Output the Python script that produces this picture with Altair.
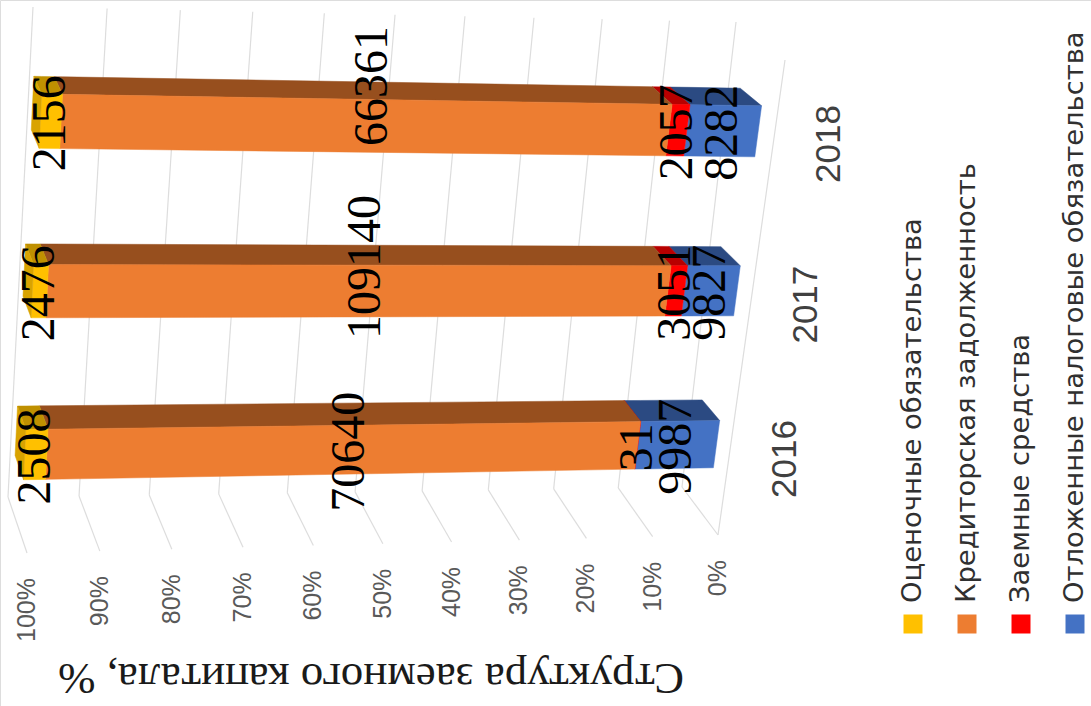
import altair as alt
import pandas as pd

years = ["2016", "2017", "2018"]
estimated = [2508, 2476, 2156]
payables = [70640, 109140, 66361]
loans = [31, 3051, 2057]
deferred_tax = [9987, 9827, 8282]
series_names = [
    "Оценочные обязательства",
    "Кредиторская задолженность",
    "Заемные средства",
    "Отложенные налоговые обязательства",
]
percent_ticks = [0, 10, 20, 30, 40, 50, 60, 70, 80, 90, 100]
title_text = "Структура заемного капитала, %"

# Stacked from the 0% end outwards
stack_order = [
    ("Отложенные налоговые обязательства", deferred_tax, "#4472C4", "#2B4A82"),
    ("Заемные средства", loans, "#FF0000", "#B80000"),
    ("Кредиторская задолженность", payables, "#ED7D31", "#974F1E"),
    ("Оценочные обязательства", estimated, "#FFC000", "#BF9000"),
]
legend_colors = ["#FFC000", "#ED7D31", "#FF0000", "#4472C4"]

# Corners of the 3D box on the page: (percent end, category end, depth end)
BOX = {
    (0, 0, 0): (682, 487), (0, 0, 1): (718, 535),
    (0, 1, 0): (736, 22), (0, 1, 1): (785, 60),
    (1, 0, 0): (8, 497), (1, 0, 1): (27, 553),
    (1, 1, 0): (33, 7), (1, 1, 1): (50, 44),
}
BAR_SPAN = [(0.11, 0.21), (0.432, 0.538), (0.769, 0.877)]
DEPTH = (0.23, 0.68)


def project(pct, c, d):
    """Trilinear projection of (percent, category, depth) with mild perspective."""
    s = pct / 100
    t = s * (0.94 + 0.06 * s)
    px = py = 0.0
    for (a, b, e), (x, y) in BOX.items():
        w = (t if a else 1 - t) * (c if b else 1 - c) * (d if e else 1 - d)
        px += w * x
        py += w * y
    return px, py


def polygon_rows(points, name, fill):
    """Express a convex polygon as x-sorted top/bottom envelopes for an area mark."""
    rows = []
    xs = sorted({p[0] for p in points})
    n = len(points)
    for x in xs:
        hits = []
        for i in range(n):
            (x0, y0), (x1, y1) = points[i], points[(i + 1) % n]
            if min(x0, x1) <= x <= max(x0, x1):
                if x0 == x1:
                    hits += [y0, y1]
                else:
                    hits.append(y0 + (x - x0) / (x1 - x0) * (y1 - y0))
        rows.append({"face": name, "fill": fill, "x": x,
                     "y": min(hits), "y2": max(hits)})
    return rows


faces, labels = [], []
# Two labels sit above the middle of their bars
label_nudge = {"109140": -26, "66361": -42}
for i, year in enumerate(years):
    total = sum(vals[i] for _, vals, _, _ in stack_order)
    c0, c1 = BAR_SPAN[i]
    d0, d1 = DEPTH
    start = 0.0
    for name, vals, color, dark in stack_order:
        end = start + vals[i] / total * 100
        front = [project(start, c0, d1), project(end, c0, d1),
                 project(end, c1, d1), project(start, c1, d1)]
        top = [project(start, c1, d1), project(end, c1, d1),
               project(end, c1, d0), project(start, c1, d0)]
        faces += polygon_rows(top, f"{year}-{name}-top", dark)
        faces += polygon_rows(front, f"{year}-{name}-front", color)
        lx, ly = project((start + end) / 2, (c0 + c1) / 2, d1)
        labels.append({"x": lx, "y": ly + 2 + label_nudge.get(str(vals[i]), 0),
                       "text": str(vals[i])})
        start = end
    # Far end of the stack is visible as a narrow darker sliver
    cap = [project(100, c0, d1), project(100, c1, d1),
           project(100, c1, d0), project(100, c0, d0)]
    faces += polygon_rows(cap, f"{year}-cap", "#D9A300")

grid = []
for v in percent_ticks:
    a, b, e = project(v, 1, 0), project(v, 0, 0), project(v, 0, 1)
    grid.append({"x": a[0], "y": a[1], "x2": b[0], "y2": b[1]})
    grid.append({"x": b[0], "y": b[1], "x2": e[0], "y2": e[1]})
a, b = project(0, 1, 1), project(0, 0, 1)
grid.append({"x": a[0], "y": a[1], "x2": b[0], "y2": b[1]})

ticks = []
for v in percent_ticks:
    x, y = project(v, 0, 1)
    ticks.append({"x": x, "y": y + 25, "text": f"{v}%"})

cats = []
for year, (c0, c1) in zip(years, BAR_SPAN):
    x, y = project(0, (c0 + c1) / 2, 1)
    cats.append({"x": x + 56, "y": y, "text": year})

legend = [{"x": 913 + 54 * i, "y": 624, "tx": 913 + 54 * i, "ty": 603,
           "text": t, "fill": legend_colors[i]} for i, t in enumerate(series_names)]

page_x = alt.Scale(domain=[0, 1091], range=[0, 1091])
page_y = alt.Scale(domain=[0, 706], range=[0, 706])
X = alt.X("x:Q", scale=page_x, axis=None)
Y = alt.Y("y:Q", scale=page_y, axis=None)

grid_layer = alt.Chart(pd.DataFrame(grid)).mark_rule(
    color="#DDDDDD", strokeWidth=1.2
).encode(x=X, y=Y, x2="x2:Q", y2="y2:Q")

face_layer = alt.Chart(pd.DataFrame(faces)).mark_area(
    orient="vertical", strokeWidth=0.5
).encode(
    x=X, y=Y, y2="y2:Q",
    color=alt.Color("fill:N", scale=None),
    stroke=alt.Color("fill:N", scale=None),
    detail="face:N",
)

label_layer = alt.Chart(pd.DataFrame(labels)).mark_text(
    angle=270, font="Liberation Serif", fontSize=48, color="#000000",
    align="center", baseline="middle",
).encode(x=X, y=Y, text="text:N")

tick_layer = alt.Chart(pd.DataFrame(ticks)).mark_text(
    angle=270, font="Liberation Sans", fontSize=25, color="#595959",
    align="right", baseline="middle",
).encode(x=X, y=Y, text="text:N")

cat_layer = alt.Chart(pd.DataFrame(cats)).mark_text(
    angle=270, font="Liberation Sans", fontSize=35, color="#404040",
    align="center", baseline="middle",
).encode(x=X, y=Y, text="text:N")

title_layer = alt.Chart(pd.DataFrame([{"x": 371, "y": 678, "text": title_text}])).mark_text(
    angle=180, font="Liberation Serif", fontSize=45, color="#1A1A1A",
    align="center", baseline="middle",
).encode(x=X, y=Y, text="text:N")

swatch_layer = alt.Chart(pd.DataFrame(legend)).mark_point(
    shape="square", filled=True, size=361, opacity=1
).encode(x=X, y=Y, color=alt.Color("fill:N", scale=None))

legend_text_layer = alt.Chart(pd.DataFrame(legend)).mark_text(
    angle=270, font="DejaVu Sans", fontSize=27.4, color="#303030",
    align="left", baseline="middle",
).encode(
    x=alt.X("tx:Q", scale=page_x, axis=None),
    y=alt.Y("ty:Q", scale=page_y, axis=None),
    text="text:N",
)

chart = alt.layer(
    grid_layer, face_layer, label_layer, tick_layer, cat_layer,
    title_layer, swatch_layer, legend_text_layer,
).properties(
    width=1091, height=706, padding=0, autosize=alt.AutoSizeParams(type="none"),
).configure_view(stroke=None).configure(background="#FFFFFF")

chart.save("out.html", embed_options={"renderer": "svg", "actions": False})
